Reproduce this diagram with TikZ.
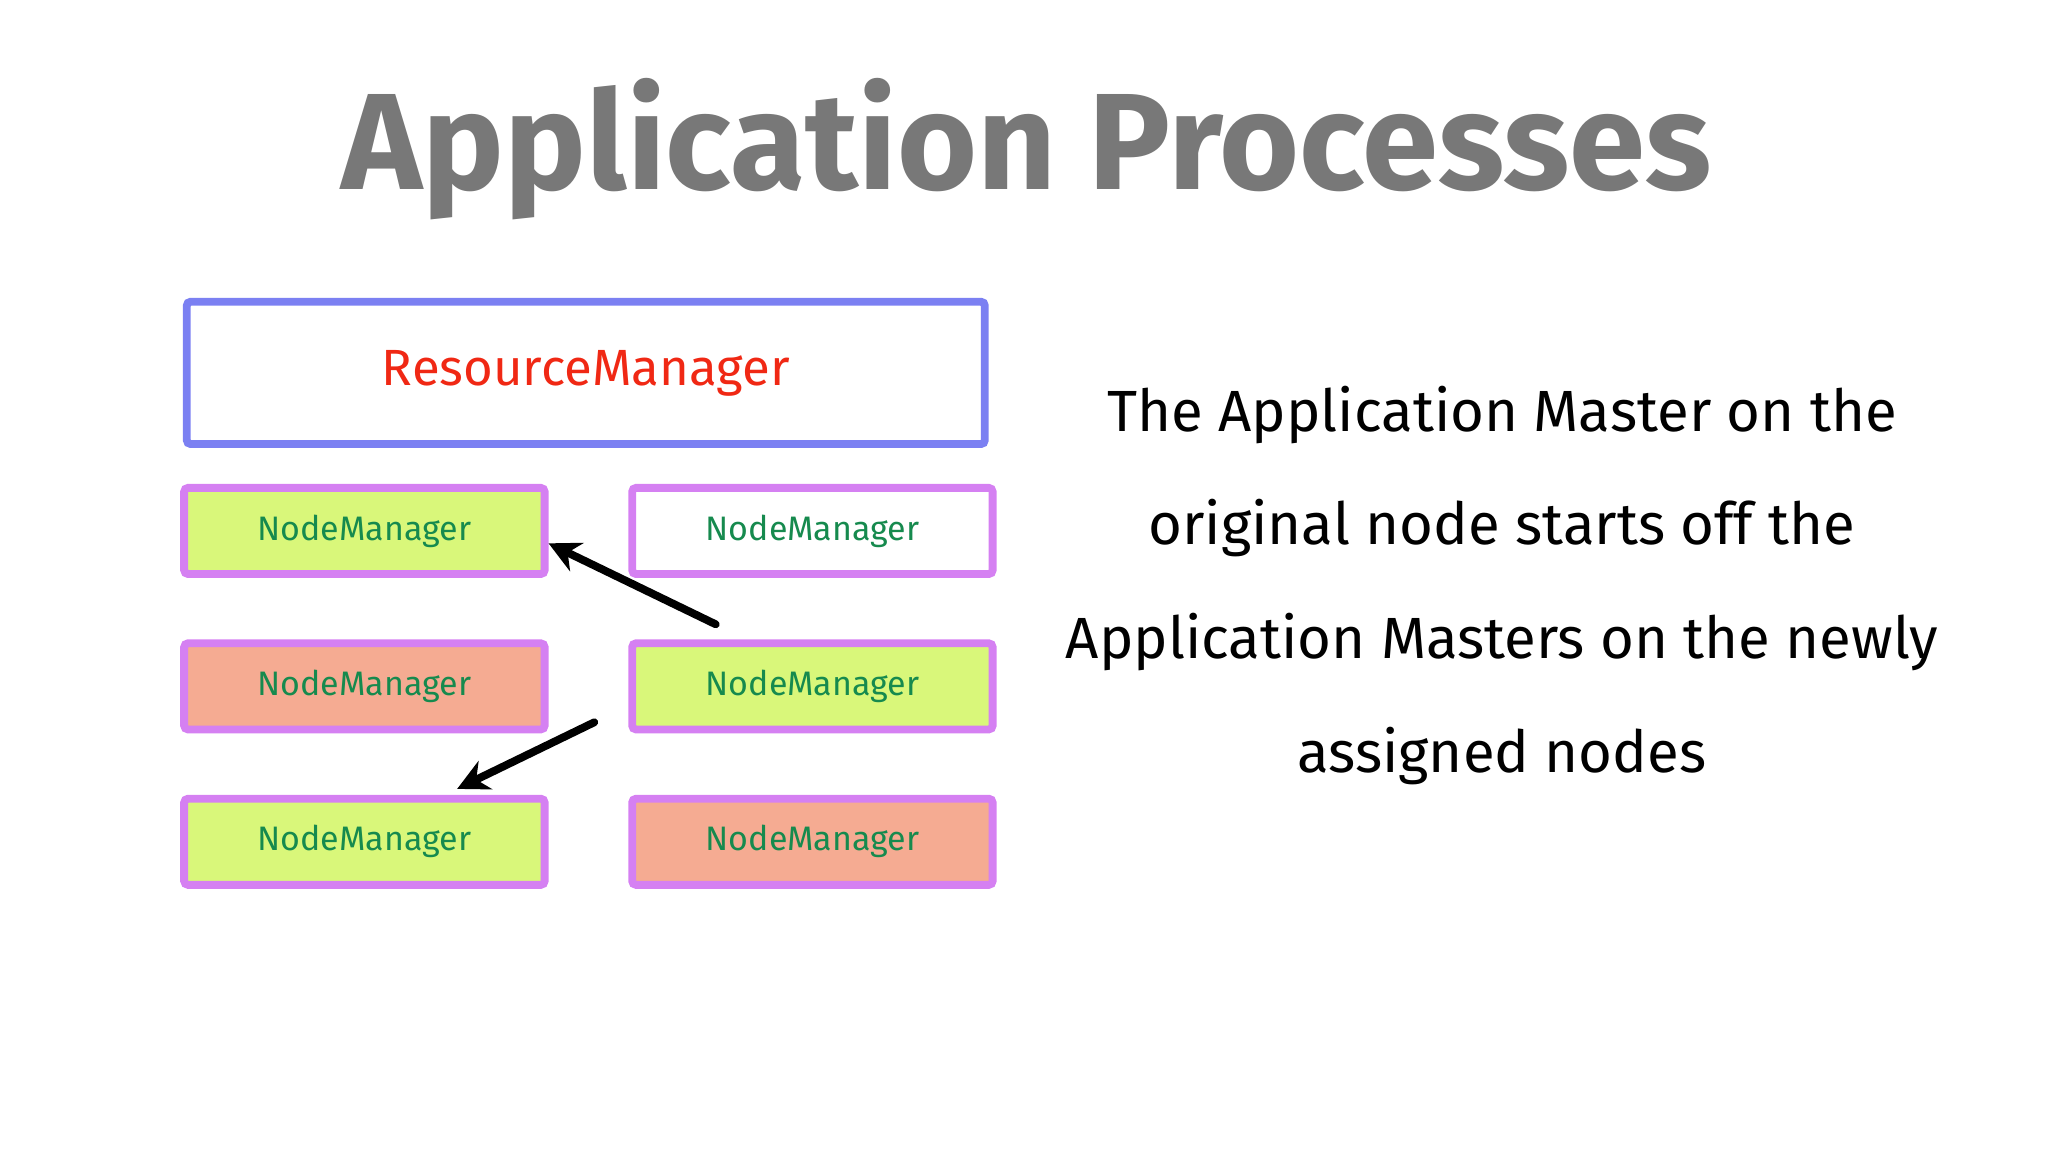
\documentclass[tikz,border=0pt]{standalone}
\usepackage{fontspec}
\setmainfont{Fira Sans}
\begin{document}
\begin{tikzpicture}[x=1pt,y=-1pt,
  nm/.style={draw=nmb,line width=6pt,rounded corners=3pt,minimum width=276pt,minimum height=66pt,inner sep=0pt,text=nmt,font=\fontsize{26}{30}\selectfont},
  arr/.style={line width=6pt,-{Stealth[length=24pt,width=24pt]},line cap=round}]
\usetikzlibrary{arrows.meta}
\definecolor{nmb}{HTML}{D580F2}
\definecolor{nmt}{HTML}{168A4E}
\definecolor{rmb}{HTML}{7B80F2}
\definecolor{gr}{HTML}{D9F77A}
\definecolor{sa}{HTML}{F5AB92}
\definecolor{tg}{HTML}{787878}
\useasboundingbox (0,0) rectangle (1568,882);
\node (title) at (786,114) [text=tg,font=\bfseries\fontsize{105}{115}\selectfont] {Application Processes};
\node (rm) at (448.5,285.5) [draw=rmb,line width=6pt,rounded corners=3pt,minimum width=611pt,minimum height=109pt,text={rgb,255:red,240;green,40;blue,20},font=\fontsize{39}{42}\selectfont] {\raisebox{-6pt}{ResourceManager}};
\node[nm,fill=gr] (a) at (279,406.5) {NodeManager};
\node[nm,fill=white] (b) at (622,406.5) {NodeManager};
\node[nm,fill=sa] (c) at (279,525.5) {NodeManager};
\node[nm,fill=gr] (d) at (622,525.5) {NodeManager};
\node[nm,fill=gr] (e) at (279,644.5) {NodeManager};
\node[nm,fill=sa] (f) at (622,644.5) {NodeManager};
\coordinate (s1) at (548,478);
\coordinate (s2) at (455,553);
\draw[arr] (s1) -- (a.east |- 0,416);
\draw[arr] (s2) -- (350,604);
\node (txt) at (1150,448) [align=center,font=\fontsize{44.5}{87}\selectfont] {The Application Master on the\\original node starts off the\\Application Masters on the newly\\assigned nodes};
\end{tikzpicture}
\end{document}
